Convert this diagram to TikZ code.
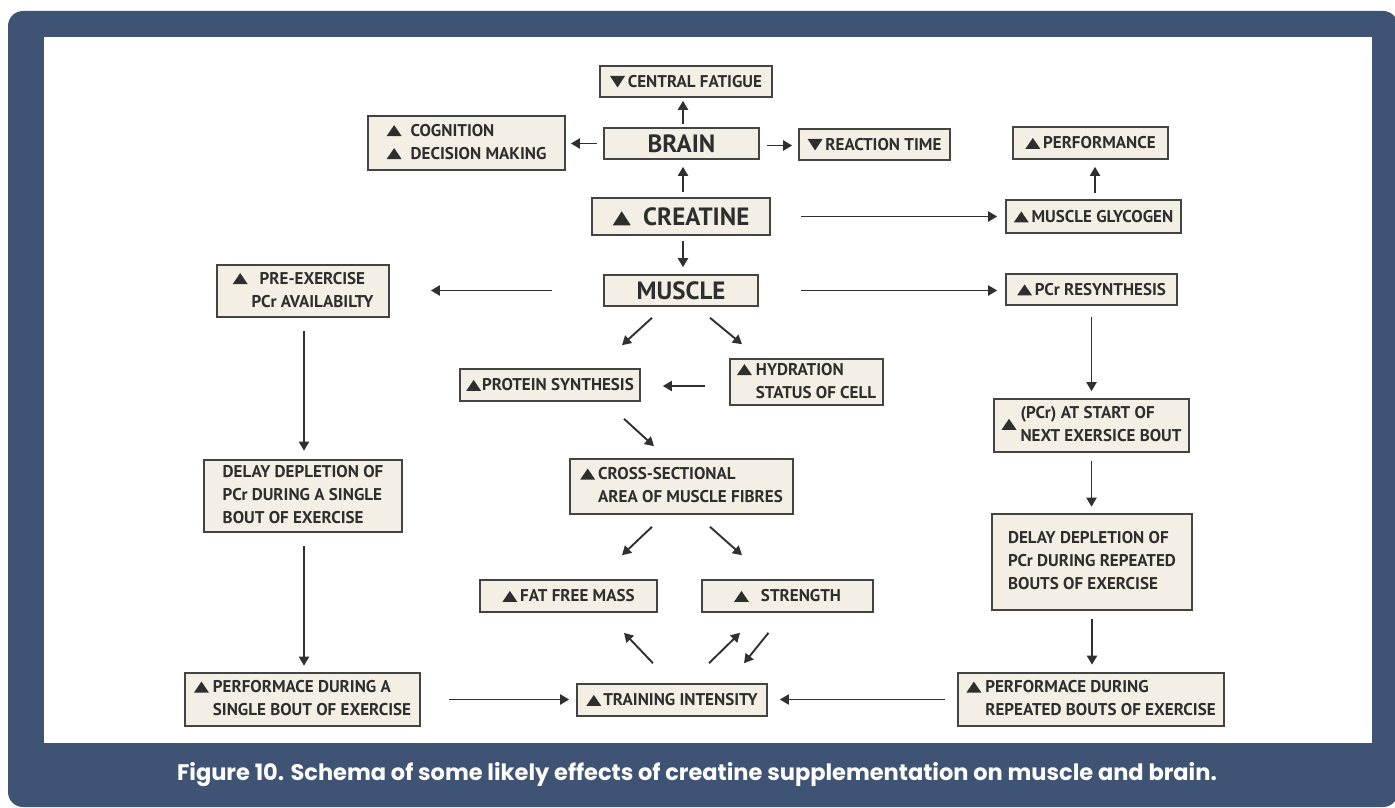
\documentclass[tikz,border=0pt]{standalone}
\usepackage{fontspec}
\usetikzlibrary{arrows.meta,calc}
\setmainfont{PT Sans}
\newfontfamily\boxfont{PT Sans}
\newfontfamily\capfont{Poppins}
\definecolor{panel}{HTML}{3F5475}
\definecolor{boxfill}{HTML}{F4EFE4}
\definecolor{boxline}{HTML}{444444}
\definecolor{txt}{HTML}{2E2E2E}
\definecolor{arrc}{HTML}{303030}
\newcommand{\tu}{\tikz[baseline=0pt]\fill[txt] (0pt,0pt) -- (15pt,0pt) -- (7.5pt,11pt) -- cycle;}
\newcommand{\td}{\tikz[baseline=0pt]\fill[txt] (0pt,11.5pt) -- (15pt,11.5pt) -- (7.5pt,0pt) -- cycle;}
\newcommand{\tub}{\tikz[baseline=0pt]\fill[txt] (0pt,0pt) -- (18pt,0pt) -- (9pt,14pt) -- cycle;}
\tikzset{
  box/.style={draw=boxline, fill=boxfill, line width=1.6pt, inner sep=0pt, align=center,
    text=txt, font=\boxfont\bfseries\fontsize{17}{23}\selectfont},
  thickbox/.style={box, line width=2.6pt},
  bigbox/.style={box, font=\boxfont\bfseries\fontsize{25}{30}\selectfont},
  arr/.style={draw=arrc, line width=1.9pt, -{Triangle[length=9pt,width=10pt]}}
}
\begin{document}
\begin{tikzpicture}[x=1pt,y=-1pt]
\useasboundingbox (0,0) rectangle (1395,808);
\fill[white] (0,0) rectangle (1395,808);
\fill[panel, rounded corners=15pt] (8,11) rectangle (1398,807);
\fill[white] (44,37) rectangle (1372,743);

% nodes
\node[box, minimum width=172, minimum height=31] (fat) at (686,81.5) {\td\,CENTRAL FATIGUE};
\node[box, minimum width=197, minimum height=54] (cog) at (466.5,143)
  {\begin{tabular}{@{}l@{\hspace{9pt}}l@{}}\tu & COGNITION\\ \tu & DECISION MAKING\end{tabular}};
\node[bigbox, minimum width=155, minimum height=31] (brain) at (681.5,143.5) {BRAIN};
\node[box, minimum width=151, minimum height=31] (react) at (874.5,144.5) {\td\,REACTION TIME};
\node[box, minimum width=155, minimum height=32] (perf) at (1090.5,143) {\tu\,PERFORMANCE};
\node[bigbox, minimum width=178, minimum height=37] (creat) at (681,216.5) {\tub\enspace CREATINE};
\node[box, minimum width=175, minimum height=33] (glyc) at (1093.5,216.5) {\tu\,MUSCLE GLYCOGEN};
\node[bigbox, minimum width=154, minimum height=31] (muscle) at (681,290.5) {MUSCLE};
\node[box, minimum width=172, minimum height=52] (pre) at (303,291)
  {\begin{tabular}{@{}l@{\hspace{4pt}}l@{}}\tu & \hspace{8pt}PRE-EXERCISE\\ & PCr AVAILABILTY\end{tabular}};
\node[box, minimum width=171, minimum height=31] (resyn) at (1091.5,289.5) {\tu\,PCr RESYNTHESIS};
\node[box, minimum width=180, minimum height=32] (prot) at (550,385) {\tu\kern1pt PROTEIN SYNTHESIS};
\node[box, minimum width=153, minimum height=46] (hydr) at (806.5,382)
  {\begin{tabular}{@{}l@{\hspace{4pt}}l@{}}\tu & HYDRATION\\ & STATUS OF CELL\end{tabular}};
\node[box, minimum width=195, minimum height=53] (start) at (1091.5,425.5)
  {\begin{tabular}{@{}l@{\hspace{4pt}}l@{}}\tu & \begin{tabular}{@{}l@{}}(PCr) AT START OF\\ NEXT EXERSICE BOUT\end{tabular}\end{tabular}};
\node[thickbox, minimum width=198, minimum height=72] (delay1) at (303,496)
  {\begin{tabular}{@{}l@{}}DELAY DEPLETION OF\\ PCr DURING A SINGLE\\ BOUT OF EXERCISE\end{tabular}};
\node[box, minimum width=223, minimum height=55] (cross) at (681.5,486.5)
  {\begin{tabular}{@{}l@{\hspace{3pt}}l@{}}\tu & CROSS-SECTIONAL\\ & AREA OF MUSCLE FIBRES\end{tabular}};
\node[thickbox, minimum width=200, minimum height=96] (delay2) at (1092,562)
  {\begin{tabular}{@{}l@{}}DELAY DEPLETION OF\\ PCr DURING REPEATED\\ BOUTS OF EXERCISE\end{tabular}};
\node[box, minimum width=177, minimum height=32] (ffm) at (568.5,596) {\tu\,FAT FREE MASS};
\node[box, minimum width=171, minimum height=32] (str) at (787.5,596) {\tu\hspace{12pt}STRENGTH};
\node[thickbox, minimum width=235, minimum height=53] (perf1) at (302.5,699.5)
  {\begin{tabular}{@{}l@{\hspace{4pt}}l@{}}\tu & PERFORMACE DURING A\\ & SINGLE BOUT OF EXERCISE\end{tabular}};
\node[box, minimum width=190, minimum height=32] (train) at (672,700) {\tu\kern2pt TRAINING INTENSITY};
\node[thickbox, minimum width=266, minimum height=53] (perf2) at (1091,699.5)
  {\begin{tabular}{@{}l@{\hspace{4pt}}l@{}}\tu & PERFORMACE DURING\\ & REPEATED BOUTS OF EXERCISE\end{tabular}};

% straight arrows
\draw[arr, shorten <=3pt, shorten >=3pt] ([xshift=1.5pt]brain.north) -- ([xshift=1.5pt]brain.north |- fat.south);
\draw[arr, shorten <=6pt, shorten >=5pt] (brain.west) -- (brain.west -| cog.east);
\draw[arr, shorten <=7pt, shorten >=6pt] ([yshift=-2pt]brain.east) -- ([yshift=-2pt]brain.east -| react.west);
\draw[arr, shorten <=5pt, shorten >=7pt] ([xshift=2pt]creat.north) -- ([xshift=2pt]creat.north |- brain.south);
\draw[arr, shorten <=30pt, shorten >=8pt] (creat.east) -- (creat.east -| glyc.west);
\draw[arr, shorten <=6pt, shorten >=7pt] ([xshift=1.5pt]glyc.north) -- ([xshift=1.5pt]glyc.north |- perf.south);
\draw[arr, shorten <=5pt, shorten >=7pt] ([xshift=2pt]creat.south) -- ([xshift=2pt]creat.south |- muscle.north);
\draw[arr, shorten <=51pt, shorten >=41pt] (muscle.west) -- (muscle.west -| pre.east);
\draw[arr, shorten <=42pt, shorten >=8pt] (muscle.east) -- (muscle.east -| resyn.west);
\draw[arr, shorten <=24pt, shorten >=22pt] ([yshift=-4pt]hydr.west) -- ([yshift=-4pt]hydr.west -| prot.east);
\draw[arr, shorten <=13pt, shorten >=8pt] ([xshift=1pt]pre.south) -- ([xshift=1pt]pre.south |- delay1.north);
\draw[arr, shorten <=13pt, shorten >=6pt] ([xshift=1pt]delay1.south) -- ([xshift=1pt]delay1.south |- perf1.north);
\draw[arr, shorten <=28pt, shorten >=7pt] (perf1.east) -- (perf1.east -| train.west);
\draw[arr, shorten <=12pt, shorten >=12pt] (perf2.west) -- (perf2.west -| train.east);
\draw[arr, shorten <=11pt, shorten >=7pt] (resyn.south) -- (resyn.south |- start.north);
\draw[arr, shorten <=8pt, shorten >=6pt] (start.south) -- (start.south |- delay2.north);
\draw[arr, shorten <=8pt, shorten >=7pt] (delay2.south) -- (delay2.south |- perf2.north);

% diagonal arrows
\draw[arr] ($(muscle.south)+(-29,11)$) -- ($(prot.north)+(72,-23)$);
\draw[arr] ($(muscle.south)+(29,11)$) -- ($(hydr.north)+(-64.5,-14)$);
\draw[arr] ($(prot.south)+(74,17)$) -- ($(cross.north)+(-27.5,-12)$);
\draw[arr] ($(cross.south)+(-29.5,12)$) -- ($(ffm.north)+(53.5,-24)$);
\draw[arr] ($(cross.south)+(28.5,12)$) -- ($(str.north)+(-45.5,-24)$);
\draw[arr] ($(train.north)+(-19,-20)$) -- ($(ffm.south)+(55.5,20)$);
\draw[arr] ($(train.north)+(37,-20)$) -- ($(str.south)+(-47.5,20)$);
\draw[arr] ($(str.south)+(-19,20)$) -- ($(train.north)+(72,-20)$);

% caption
\node[text=white, font=\capfont\bfseries\fontsize{22.5}{26}\selectfont, inner sep=0pt] (cap) at (697,775)
  {Figure 10. Schema of some likely effects of creatine supplementation on muscle and brain.};
\end{tikzpicture}
\end{document}
